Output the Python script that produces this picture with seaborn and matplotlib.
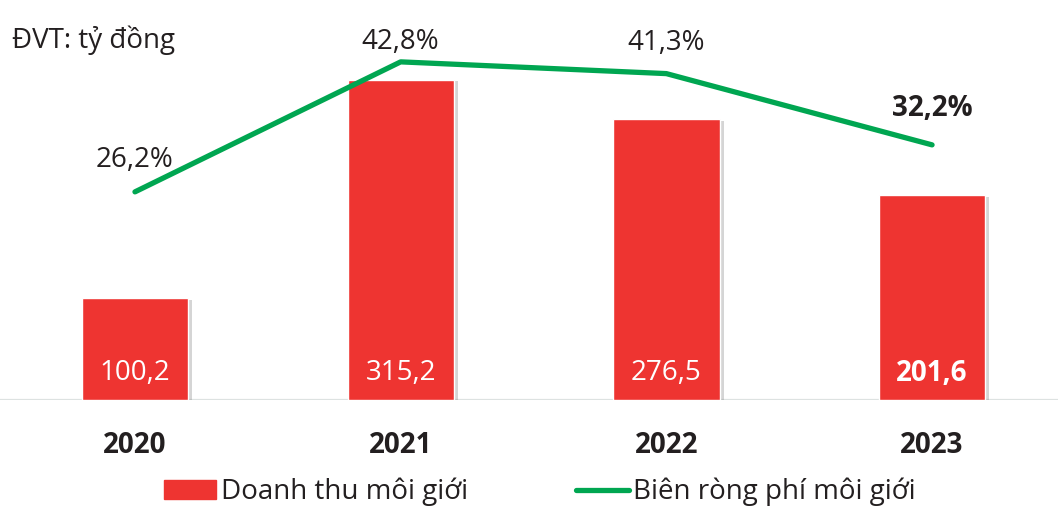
import numpy as np
import pandas as pd
import seaborn as sns
import matplotlib.pyplot as plt
import matplotlib.patheffects as pe
from matplotlib.patches import Patch
from matplotlib.lines import Line2D

# Data
years = ['2020', '2021', '2022', '2023']
revenue = [100.2, 315.2, 276.5, 201.6]
margin = [26.2, 42.8, 41.3, 32.2]
revenue_labels = ['100,2', '315,2', '276,5', '201,6']
margin_labels = ['26,2%', '42,8%', '41,3%', '32,2%']

RED = '#ee3431'
GREEN = '#00a651'
TXT = '#231f20'

sns.set_style('white')
plt.rcParams['font.family'] = ['Open Sans', 'DejaVu Sans']

df = pd.DataFrame({'year': years, 'revenue': revenue, 'margin': margin})

fig = plt.figure(figsize=(10.58, 5.08), dpi=100)
ax = fig.add_axes([0, 108 / 508, 1, 400 / 508])

sns.barplot(data=df, x='year', y='revenue', color=RED, width=0.4,
            saturation=1, ax=ax)
for p in ax.patches:
    p.set_path_effects([pe.SimplePatchShadow(offset=(3, -1), shadow_rgbFace='#888888', alpha=0.35),
                        pe.Normal()])

ax.set_xlim(-0.508, 3.474)
ax.set_ylim(0, 394)
ax.axhline(0, color='#dde2e1', lw=1.6, zorder=0)
for s in ax.spines.values():
    s.set_visible(False)
ax.set_yticks([])
ax.set_xlabel('')
ax.set_ylabel('')
ax.tick_params(axis='x', length=0, pad=22, labelsize=20, labelcolor=TXT)
for t in ax.get_xticklabels():
    t.set_fontweight('bold')

# bar value labels
for i, lab in enumerate(revenue_labels):
    ax.text(i, 26.5, lab, ha='center', va='center', color='white', fontsize=20,
            fontweight='bold' if i == 3 else 'normal')

# margin line on twin axis
ax2 = ax.twinx()
ax2.set_ylim(-0.38, 50.7)
x_pos = np.arange(len(years))
sns.lineplot(x=x_pos, y=margin, color=GREEN, lw=3.8, ax=ax2,
             solid_capstyle='round', solid_joinstyle='round')
ax2.set_xlim(-0.508, 3.474)
ax2.set_yticks([])
ax2.set_ylabel('')
for s in ax2.spines.values():
    s.set_visible(False)

offsets = [13, 4, 12, 16]
for i, lab in enumerate(margin_labels):
    ax2.annotate(lab, (i, margin[i]), xytext=(0, offsets[i]), textcoords='offset points',
                 ha='center', va='bottom', fontsize=20, color=TXT,
                 fontweight='bold' if i == 3 else 'normal')

fig.text(12 / 1058, 1 - 40 / 508, 'ĐVT: tỷ đồng', ha='left', va='center',
         fontsize=20, color=TXT)

handles = [Patch(color=RED, label='Doanh thu môi giới'),
           Line2D([0], [0], color=GREEN, lw=3.8, solid_capstyle='round',
                  label='Biên ròng phí môi giới')]
fig.legend(handles=handles, loc='center', bbox_to_anchor=(0.51, 1 - 492 / 508), ncol=2,
           frameon=False, fontsize=20, handlelength=1.9, handletextpad=0.15,
           columnspacing=3.9, labelcolor=TXT)

fig.savefig('out.png', dpi=100)
